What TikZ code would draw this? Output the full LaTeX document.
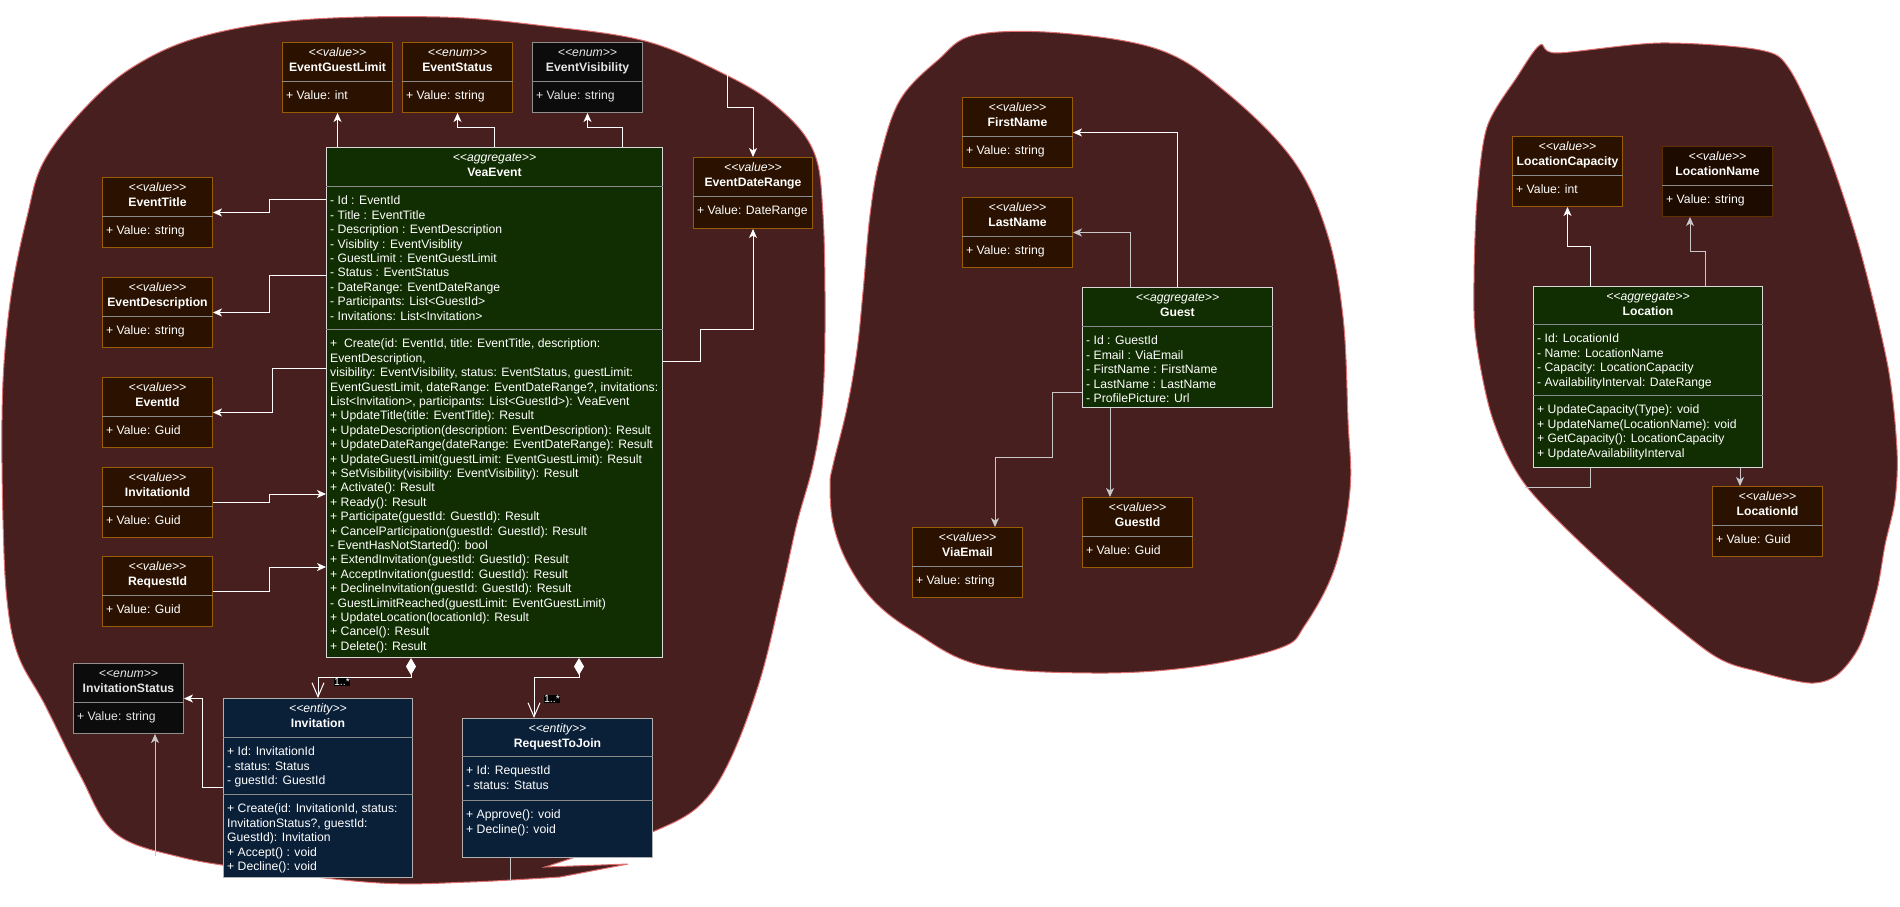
\documentclass[tikz,border=0pt]{standalone}
\usepackage{fontspec}
\setmainfont{Liberation Sans}
\usetikzlibrary{arrows.meta,calc}
\definecolor{blobfill}{HTML}{481F1F}
\definecolor{blobline}{HTML}{E07070}
\definecolor{valfill}{HTML}{2B1200}
\definecolor{valline}{HTML}{9A5C00}
\definecolor{dvalfill}{HTML}{1E0B00}
\definecolor{dvalline}{HTML}{5E3000}
\definecolor{enumfill}{HTML}{0C0C0C}
\definecolor{enumline}{HTML}{8F8F8F}
\definecolor{enumtext}{HTML}{E6E6E6}
\definecolor{aggfill}{HTML}{112E02}
\definecolor{aggline}{HTML}{D9D9D9}
\definecolor{entfill}{HTML}{0A1F38}
\definecolor{entline}{HTML}{B0B0B0}
\definecolor{sepgray}{HTML}{8A8A8A}
\definecolor{lightline}{HTML}{C8C8C8}
\newcommand{\fsz}{\fontsize{12.2}{14.4}\selectfont}
\newcommand{\stereo}[1]{\textit{<\kern0pt<#1>\kern0pt>}}
\tikzset{
  blob/.style={fill=blobfill, draw=blobline, line width=1pt},
  uml/box/.style={draw, line width=1pt, anchor=north west, inner sep=0pt},
  uml/value/.style={uml/box, fill=valfill, draw=valline},
  uml/darkval/.style={uml/box, fill=dvalfill, draw=dvalline},
  uml/enum/.style={uml/box, fill=enumfill, draw=enumline},
  uml/agg/.style={uml/box, fill=aggfill, draw=aggline},
  uml/entity/.style={uml/box, fill=entfill, draw=entline},
  uml/head/.style={anchor=north, align=center, inner sep=0pt, font=\fsz},
  uml/body/.style={anchor=north west, align=left, inner sep=0pt, font=\fsz},
  uml/sep/.style={draw=sepgray, line width=1pt},
  arr/.style={draw=white, line width=1pt, -{Stealth[length=9pt,width=8pt,inset=2.5pt]}},
  grayarr/.style={arr, draw=lightline},
  plainline/.style={draw=lightline, line width=1pt},
  comp/.style={draw=white, line width=1pt, {Diamond[length=17pt,width=10pt]}-{Straight Barb[length=14pt,width=12pt]}},
  mult/.style={fill=black, text=white, inner sep=0.6pt, font=\fontsize{10.5}{12}\selectfont}
}
% box: [text colour]{name}{style}{x}{y}{w}{h}{stereotype}{title}
\newcommand{\umlbox}[9][white]{%
  \node[#3, minimum width=#6pt, minimum height=#7pt] (#2) at (#4,#5) {};
  \node[uml/head, text=#1] (#2-h) at ([yshift=-4.4pt]#2.north) {\strut\stereo{#8}\\\textbf{#9}};}
% compartment: [text colour]{box}{part}{offset}{lines}
\newcommand{\compart}[5][white]{%
  \draw[uml/sep] ([yshift=-#4pt]#2.north west) -- ([yshift=-#4pt]#2.north east);
  \node[uml/body, text=#1] (#2-#3) at ([xshift=4pt,yshift=-#4pt-8.7pt]#2.north west) {\strut #5};}
\newcommand{\valbox}[8][white]{%
  \umlbox[#1]{#2}{#3}{#4}{#5}{110}{70}{#6}{#7}%
  \compart[#1]{#2}{v}{39}{#8}}

\begin{document}
\begin{tikzpicture}[x=1pt, y=-1pt]
\useasboundingbox[fill=white] (0,0) rectangle (1900,906);

\filldraw[blob] plot[smooth, tension=0.6] coordinates {(545,867) (600,849) (657,830) (700,805) (730,760) (760,680) (782,590) (797,523) (813,465) (822,408) (825,331) (823,215) (813,150) (775,105) (720,72) (645,41) (545,26) (440,17) (300,20) (200,37) (133,67) (83,110) (43,163) (27,217) (13,283) (5,350) (2,420) (3,520) (7,600) (18,655) (45,705) (80,775) (115,833) (180,857) (260,870) (380,883) (470,882) (560,877)} -- (628,864) -- cycle;
\filldraw[blob] plot[smooth cycle, tension=0.6] coordinates {(880,158) (900,100) (938,60) (975,35) (1060,33) (1160,50) (1227,93) (1293,160) (1327,233) (1343,317) (1348,420) (1350,490) (1335,567) (1305,625) (1280,648) (1193,667) (1093,673) (980,665) (913,631) (873,600) (847,562) (833,523) (830,485) (833,465) (847,408) (857,350) (863,292) (870,215)};
\filldraw[blob] plot[smooth cycle, tension=0.5] coordinates {(1487,127) (1517,77) (1540,45) (1557,53) (1660,43) (1760,50) (1790,70) (1827,150) (1860,250) (1888,367) (1897,450) (1895,500) (1885,545) (1877,590) (1860,645) (1837,675) (1810,683) (1760,672) (1710,653) (1610,570) (1527,487) (1493,420) (1476,340) (1474,280) (1477,200)};

% event
\valbox{eglimit}{uml/value}{282}{42}{value}{EventGuestLimit}{+ Value: int}
\valbox{estatus}{uml/value}{402}{42}{enum}{EventStatus}{+ Value: string}
\valbox[enumtext]{evis}{uml/enum}{532}{42}{enum}{EventVisibility}{+ Value: string}
\umlbox{edrange}{uml/value}{693}{157}{119}{71}{value}{EventDateRange}
\compart{edrange}{v}{39}{+ Value: DateRange}
\valbox{etitle}{uml/value}{102}{177}{value}{EventTitle}{+ Value: string}
\valbox{edesc}{uml/value}{102}{277}{value}{EventDescription}{+ Value: string}
\valbox{eid}{uml/value}{102}{377}{value}{EventId}{+ Value: Guid}
\valbox{invid}{uml/value}{102}{467}{value}{InvitationId}{+ Value: Guid}
\valbox{reqid}{uml/value}{102}{556}{value}{RequestId}{+ Value: Guid}
\valbox[enumtext]{invstat}{uml/enum}{73}{663}{enum}{InvitationStatus}{+ Value: string}

\umlbox{vea}{uml/agg}{326}{147}{336}{510}{aggregate}{VeaEvent}
\compart{vea}{a}{39}{- Id : EventId\\- Title : EventTitle\\- Description : EventDescription\\- Visiblity : EventVisiblity\\- GuestLimit : EventGuestLimit\\- Status : EventStatus\\- DateRange: EventDateRange\\- Participants: List<GuestId>\\- Invitations: List<Invitation>}
\compart{vea}{m}{182}{+\ \ Create(id: EventId, title: EventTitle, description:\\EventDescription,\\visibility: EventVisibility, status: EventStatus, guestLimit:\\EventGuestLimit, dateRange: EventDateRange?, invitations:\\List<Invitation>, participants: List<GuestId>): VeaEvent\\+ UpdateTitle(title: EventTitle): Result\\+ UpdateDescription(description: EventDescription): Result\\+ UpdateDateRange(dateRange: EventDateRange): Result\\+ UpdateGuestLimit(guestLimit: EventGuestLimit): Result\\+ SetVisibility(visibility: EventVisibility): Result\\+ Activate(): Result\\+ Ready(): Result\\+ Participate(guestId: GuestId): Result\\+ CancelParticipation(guestId: GuestId): Result\\- EventHasNotStarted(): bool\\+ ExtendInvitation(guestId: GuestId): Result\\+ AcceptInvitation(guestId: GuestId): Result\\+ DeclineInvitation(guestId: GuestId): Result\\- GuestLimitReached(guestLimit: EventGuestLimit)\\+ UpdateLocation(locationId): Result\\+ Cancel(): Result\\+ Delete(): Result}

\umlbox{inv}{uml/entity}{223}{698}{189}{179}{entity}{Invitation}
\compart{inv}{a}{39}{+ Id: InvitationId\\- status: Status\\- guestId: GuestId}
\compart{inv}{m}{96}{+ Create(id: InvitationId, status:\\InvitationStatus?, guestId:\\GuestId): Invitation\\+ Accept() : void\\+ Decline(): void}
\umlbox{rtj}{uml/entity}{462}{718}{190}{139}{entity}{RequestToJoin}
\compart{rtj}{a}{38}{+ Id: RequestId\\- status: Status}
\compart{rtj}{m}{82}{+ Approve(): void\\+ Decline(): void}

% guest
\valbox{fname}{uml/value}{962}{97}{value}{FirstName}{+ Value: string}
\valbox{lname}{uml/value}{962}{197}{value}{LastName}{+ Value: string}
\valbox{vemail}{uml/value}{912}{527}{value}{ViaEmail}{+ Value: string}
\valbox{gid}{uml/value}{1082}{497}{value}{GuestId}{+ Value: Guid}
\umlbox{guest}{uml/agg}{1082}{287}{190}{120}{aggregate}{Guest}
\compart{guest}{a}{39}{- Id : GuestId\\- Email : ViaEmail\\- FirstName : FirstName\\- LastName : LastName\\- ProfilePicture: Url}

% location
\valbox{lcap}{uml/value}{1512}{136}{value}{LocationCapacity}{+ Value: int}
\valbox{locname}{uml/darkval}{1662}{146}{value}{LocationName}{+ Value: string}
\valbox{lid}{uml/value}{1712}{486}{value}{LocationId}{+ Value: Guid}
\umlbox{loc}{uml/agg}{1533}{286}{229}{181}{aggregate}{Location}
\compart{loc}{a}{38}{- Id: LocationId\\- Name: LocationName\\- Capacity: LocationCapacity\\- AvailabilityInterval: DateRange}
\compart{loc}{m}{109}{+ UpdateCapacity(Type): void\\+ UpdateName(LocationName): void\\+ GetCapacity(): LocationCapacity\\+ UpdateAvailabilityInterval}

\coordinate (dtop) at (727,72);
\coordinate (isfoot) at (155,856);
\coordinate (rfoot) at (510,881);
\coordinate (lfoot) at (1525,487);

\draw[arr] (eglimit |- vea.north) -- (eglimit);
\draw[arr] (vea.north -| 494,0) -- (494,127) -| (estatus);
\draw[arr] (vea.north -| 622,0) -- (622,127) -| (evis);
\draw[arr] (dtop) -- (727,107) -| (edrange);
\draw[arr] (vea.east |- 0,361) -- (700,361) -- (700,329) -| (edrange);
\draw[arr] (vea.west |- 0,199) -- (269,199) |- (etitle);
\draw[arr] (vea.west |- 0,275) -- (269,275) |- (edesc);
\draw[arr] (vea.west |- 0,368) -- (272,368) |- (eid);
\draw[arr] (invid) -| (269,494) -- (vea.west |- 0,494);
\draw[arr] (reqid) -| (269,567) -- (vea.west |- 0,567);
\draw[comp] (vea.south -| 411,0) -- (411,677) -| (inv);
\draw[comp] (vea.south -| 579,0) -- (579,677) -| (rtj.north -| 534,0);
\node[mult] (m1) at (342,682) {1..*};
\node[mult] (m2) at (552,699) {1..*};
\draw[arr] (inv.west |- 0,787) -- (202,787) |- (invstat);
\draw[grayarr] (isfoot) -- (invstat.south -| isfoot);
\draw[plainline] (rtj.south -| rfoot) -- (rfoot);

\draw[arr] (guest.north -| 1177,0) |- (fname);
\draw[grayarr] (guest.north -| 1130,0) |- (lname);
\draw[grayarr] (guest.west |- 0,392) -- (1052,392) |- (995,457) -- (vemail.north -| 995,0);
\draw[grayarr] (guest.south -| 1110,0) -- (gid.north -| 1110,0);

\draw[arr] (loc.north -| 1590,0) -- (1590,246) -| (lcap);
\draw[grayarr] (loc.north -| 1705,0) -- (1705,251) -| (locname.south -| 1690,0);
\draw[grayarr] (loc.south -| 1740,0) -- (lid.north -| 1740,0);
\draw[plainline] (loc.south -| 1590,0) |- (lfoot);
\end{tikzpicture}
\end{document}
